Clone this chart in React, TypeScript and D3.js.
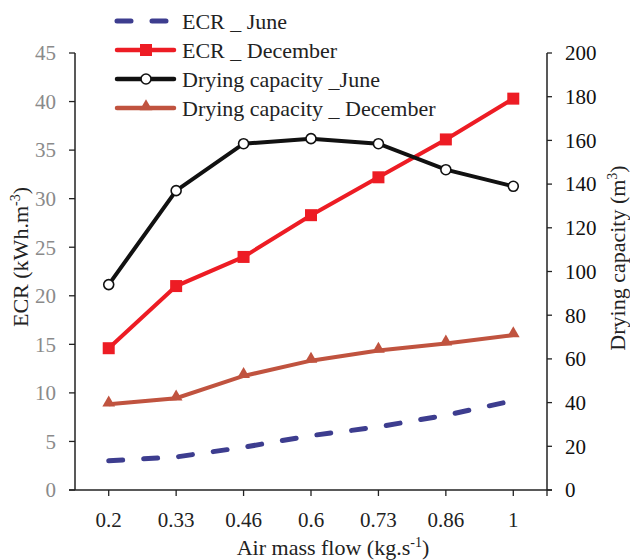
import React from 'react';
import * as d3 from 'd3';

const flows = ['0.2', '0.33', '0.46', '0.6', '0.73', '0.86', '1'];
const ecrJune = [3.0, 3.4, 4.4, 5.6, 6.5, 7.7, 9.2];
const ecrDecember = [14.6, 21.0, 24.0, 28.3, 32.2, 36.1, 40.3];
const dryJune = [94, 137, 158.5, 160.8, 158.5, 146.6, 139];
const dryDecember = [39.2, 42, 52.2, 59.2, 63.8, 67.1, 70.9];
const leftTicks = [0, 5, 10, 15, 20, 25, 30, 35, 40, 45];
const rightTicks = [0, 20, 40, 60, 80, 100, 120, 140, 160, 180, 200];

const NAVY = '#3d3d8f';
const RED = '#ed1c24';
const BROWN = '#c0533f';
const INK = '#222';
const FONT = "'Liberation Serif', 'Times New Roman', serif";

const left = 75, right = 547, top = 53, bottom = 490;

export default function App() {
  const x = d3.scaleBand().domain(flows).range([left, right]);
  const cx = (i: number) => (x(flows[i]) as number) + x.bandwidth() / 2;
  const yL = d3.scaleLinear().domain([0, 45]).range([bottom, top]);
  const yR = d3.scaleLinear().domain([0, 200]).range([bottom, top]);

  const line = (vals: number[], y: d3.ScaleLinear<number, number>) =>
    d3.line<number>().x((_, i) => cx(i)).y(v => y(v))(vals) as string;
  const tri = d3.symbol().type(d3.symbolTriangle).size(70)() as string;

  const tick = { fontFamily: FONT, fontSize: '21px' };
  const txt = { fontFamily: FONT, fontSize: '22px' };
  const sup = { fontSize: '14px' };

  const legend = [
    { name: 'ECR _ June', color: NAVY, mark: 'dash' },
    { name: 'ECR _ December', color: RED, mark: 'sq' },
    { name: 'Drying capacity _June', color: '#111', mark: 'circ' },
    { name: 'Drying capacity _ December', color: BROWN, mark: 'tri' },
  ];

  return (
    <svg width={630} height={560} style={{ position: 'absolute', left: 0, top: 0, background: '#fff' }}>
      {/* axes */}
      <line x1={left} x2={left} y1={top} y2={bottom} stroke={INK} strokeWidth={1.5} />
      <line x1={right} x2={right} y1={top} y2={bottom} stroke={INK} strokeWidth={1.5} />
      <line x1={left - 6} x2={right + 5} y1={bottom} y2={bottom} stroke={INK} strokeWidth={1.5} />
      {leftTicks.map(t => (
        <g key={'l' + t} transform={`translate(${left},${yL(t)})`}>
          <line x1={-6} x2={0} stroke={INK} strokeWidth={1.3} />
          <text x={-19} dy="0.35em" textAnchor="end" fill="#8a8a8a" style={tick}>{t}</text>
        </g>
      ))}
      {rightTicks.map(t => (
        <g key={'r' + t} transform={`translate(${right},${yR(t)})`}>
          <line x1={0} x2={5} stroke={INK} strokeWidth={1.3} />
          <text x={18} dy="0.35em" textAnchor="start" fill="#111" style={tick}>{t}</text>
        </g>
      ))}
      {flows.map((f, i) => (
        <g key={'b' + f} transform={`translate(${cx(i)},${bottom})`}>
          <line y1={0} y2={6} stroke={INK} strokeWidth={1.3} />
          <text y={37} textAnchor="middle" fill={INK} style={tick}>{f}</text>
        </g>
      ))}
      <line x1={right} x2={right} y1={bottom} y2={bottom + 6} stroke={INK} strokeWidth={1.3} />

      {/* series */}
      <path d={line(ecrJune, yL)} fill="none" stroke={NAVY} strokeWidth={5} strokeDasharray="14,21" strokeLinecap="round" />
      <path d={line(dryDecember, yR)} fill="none" stroke={BROWN} strokeWidth={4} />
      <path d={line(ecrDecember, yL)} fill="none" stroke={RED} strokeWidth={4} />
      <path d={line(dryJune, yR)} fill="none" stroke="#111" strokeWidth={4} />
      {dryDecember.map((v, i) => (
        <path key={'t' + i} d={tri} transform={`translate(${cx(i)},${yR(v) - 1.5})`} fill={BROWN} />
      ))}
      {ecrDecember.map((v, i) => (
        <rect key={'s' + i} x={cx(i) - 6} y={yL(v) - 6} width={12} height={12} fill={RED} />
      ))}
      {dryJune.map((v, i) => (
        <circle key={'c' + i} cx={cx(i)} cy={yR(v)} r={5} fill="#fff" stroke="#111" strokeWidth={1.6} />
      ))}

      {/* legend */}
      {legend.map((d, i) => (
        <g key={d.name} transform={`translate(0,${21 + i * 29})`}>
          {d.mark === 'dash'
            ? <line x1={117} x2={168} stroke={d.color} strokeWidth={5} strokeLinecap="round" strokeDasharray="14,21" />
            : <line x1={117} x2={174} stroke={d.color} strokeWidth={4.5} strokeLinecap="round" />}
          {d.mark === 'sq' && <rect x={140} y={-6} width={12} height={12} fill={d.color} />}
          {d.mark === 'circ' && <circle cx={146} cy={0} r={5} fill="#fff" stroke="#111" strokeWidth={1.6} />}
          {d.mark === 'tri' && <path d={tri} transform="translate(146,-1.5)" fill={d.color} />}
          <text x={182} y={7.5} fill={INK} style={txt}>{d.name}</text>
        </g>
      ))}

      {/* axis titles */}
      <text transform="translate(28,257) rotate(-90)" textAnchor="middle" fill={INK} style={txt}>
        ECR (kWh.m<tspan dy={-8} style={sup}>-3</tspan><tspan dy={8}>)</tspan>
      </text>
      <text transform="translate(625,258) rotate(-90)" textAnchor="middle" fill={INK} style={txt}>
        Drying capacity (m<tspan dy={-8} style={sup}>3</tspan><tspan dy={8}>)</tspan>
      </text>
      <text x={333} y={555} textAnchor="middle" fill={INK} style={txt}>
        Air mass flow (kg.s<tspan dy={-8} style={sup}>-1</tspan><tspan dy={8}>)</tspan>
      </text>
    </svg>
  );
}
